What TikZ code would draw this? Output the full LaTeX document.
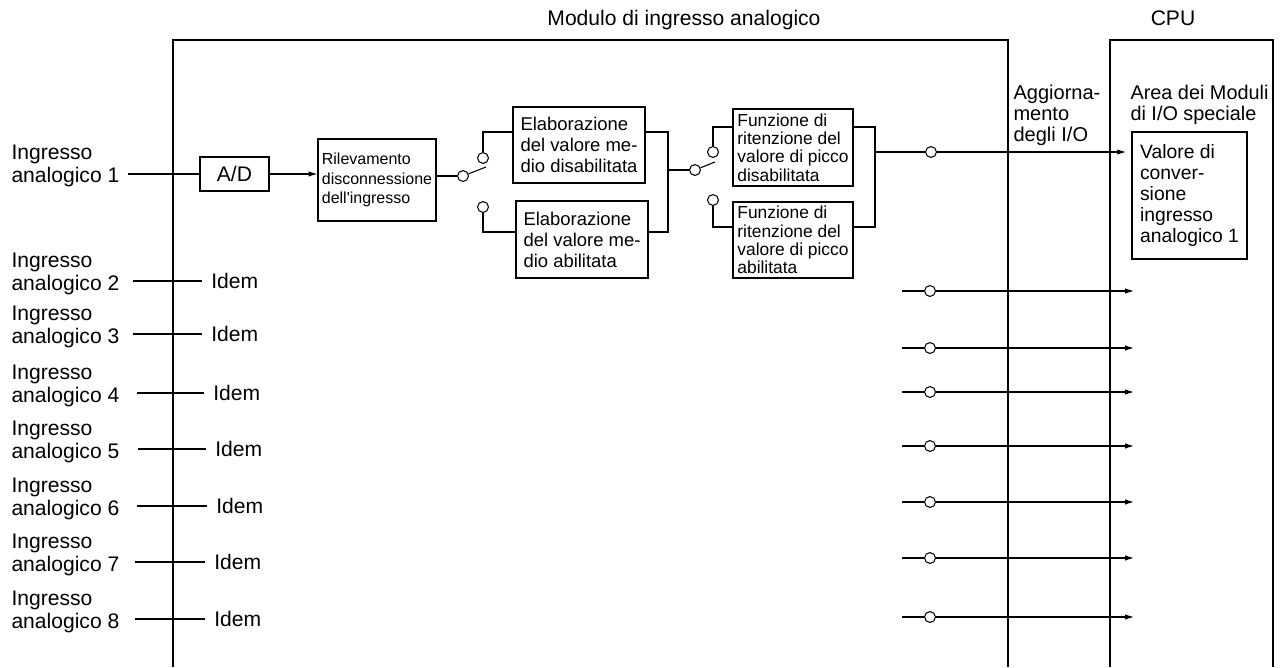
\documentclass[tikz,border=0pt]{standalone}
\usepackage{fontspec}
\setmainfont{Liberation Sans}
\usetikzlibrary{arrows.meta}

\begin{document}
\begin{tikzpicture}[x=0.02cm, y=-0.02cm, line width=0.6pt,
    every node/.style={inner sep=0pt, align=left, font=\fontsize{12}{12.6}\selectfont},
    blockbox/.style={draw, fill=white},
    contact/.style={draw, circle, minimum size=6.2pt, fill=white},
    inlabel/.style={anchor=south west},
    idem/.style={anchor=west, inner xsep=5pt},
    arr/.style={-{Latex[length=5pt, width=3pt]}}]
    \useasboundingbox (0,0) rectangle (1285,667);

    % Frames
    \draw (173,667) -- (173,40) -- (1008,40) -- (1008,667);
    \draw (1110,667) -- (1110,40) -- (1273,40) -- (1273,667);
    \node (module) [anchor=base] at (684,25) {Modulo di ingresso analogico};
    \node (cpu) [anchor=base] at (1173,25) {CPU};
    \node (refresh) [anchor=base west, font=\fontsize{11.4}{11.7}\selectfont] at (1013,141) {Aggiorna-\\mento\\degli I/O};
    \node (area) [anchor=base west, font=\fontsize{11.3}{11.7}\selectfont] at (1130,120.5) {Area dei Moduli\\di I/O speciale};

    % Nodes
    \node (in1) [inlabel] at (11,187) {Ingresso\\analogico 1};
    \node (ad) [blockbox, minimum width=1.38cm, minimum height=0.68cm] at (234.5,174) {A/D};
    \node (riv) [blockbox, minimum width=2.36cm, minimum height=1.64cm, font=\fontsize{9.1}{11}\selectfont] at (377,180) {Rilevamento\\disconnessione\\dell\textquotesingle ingresso};
    \node (sw1c) [contact] at (463,176) {};
    \node (sw1a) [contact] at (483,158) {};
    \node (sw1b) [contact] at (483,207) {};
    \node (el1) [blockbox, minimum width=2.64cm, minimum height=1.52cm, font=\fontsize{10.5}{12}\selectfont] at (579,145) {Elaborazione\\del valore me-\\dio disabilitata};
    \node (el2) [blockbox, minimum width=2.64cm, minimum height=1.54cm, font=\fontsize{10.5}{12}\selectfont] at (582,239.5) {Elaborazione\\del valore me-\\dio abilitata};
    \node (sw2c) [contact] at (695,170) {};
    \node (sw2a) [contact] at (713,152) {};
    \node (sw2b) [contact] at (713,200) {};
    \node (pk1) [blockbox, minimum width=2.4cm, minimum height=1.54cm, font=\fontsize{9.9}{10.4}\selectfont] at (793,147.5) {Funzione di\\ritenzione del\\valore di picco\\disabilitata};
    \node (pk2) [blockbox, minimum width=2.4cm, minimum height=1.52cm, font=\fontsize{9.9}{10.4}\selectfont] at (793,240) {Funzione di\\ritenzione del\\valore di picco\\abilitata};
    \node (o1) [contact] at (931,152) {};
    \node (val) [blockbox, minimum width=2.3cm, minimum height=2.54cm, font=\fontsize{11}{12}\selectfont] at (1189.5,195.5) {Valore di\\conver-\\sione\\ingresso\\analogico 1};

    \coordinate (s1) at (128,174);
    \coordinate (bl1) at (486,167);
    \coordinate (j1a) at (483,132);
    \coordinate (j1b) at (483,232);
    \coordinate (r1a) at (668,132);
    \coordinate (r1b) at (668,232);
    \coordinate (m1) at (668,170);
    \coordinate (bl2) at (715,162);
    \coordinate (j2a) at (713,127);
    \coordinate (j2b) at (713,227);
    \coordinate (r2a) at (875,127);
    \coordinate (r2b) at (875,227);
    \coordinate (m2) at (875,152);

    % Paths
    \draw (s1) -- (ad.west);
    \draw[arr] (ad.east) -- (ad.east -| riv.west);
    \draw (sw1c -| riv.east) -- (sw1c);
    \draw (sw1c) -- (bl1);
    \draw (sw1a) -- (j1a) -- (j1a -| el1.west);
    \draw (sw1b) -- (j1b) -- (j1b -| el2.west);
    \draw (r1a -| el1.east) -- (r1a) -- (r1b) -- (r1b -| el2.east);
    \draw (m1) -- (sw2c);
    \draw (sw2c) -- (bl2);
    \draw (sw2a) -- (j2a) -- (j2a -| pk1.west);
    \draw (sw2b) -- (j2b) -- (j2b -| pk2.west);
    \draw (r2a -| pk1.east) -- (r2a) -- (r2b) -- (r2b -| pk2.east);
    \draw (m2) -- (o1);
    \draw[arr, shorten >=5\pgflinewidth] (o1) -- (o1 -| val.west);

    % Other inputs
    \node (in2) [inlabel] at (11,295) {Ingresso\\analogico 2};
    \node (idem2) [idem] at (202,281) {Idem};
    \coordinate (s2) at (133,281);
    \draw (s2) -- (idem2);
    \node (in3) [inlabel] at (11,348) {Ingresso\\analogico 3};
    \node (idem3) [idem] at (202,334) {Idem};
    \coordinate (s3) at (133,334);
    \draw (s3) -- (idem3);
    \node (in4) [inlabel] at (11,407) {Ingresso\\analogico 4};
    \node (idem4) [idem] at (204,393) {Idem};
    \coordinate (s4) at (137,393);
    \draw (s4) -- (idem4);
    \node (in5) [inlabel] at (11,463) {Ingresso\\analogico 5};
    \node (idem5) [idem] at (206,449) {Idem};
    \coordinate (s5) at (138,449);
    \draw (s5) -- (idem5);
    \node (in6) [inlabel] at (11,520) {Ingresso\\analogico 6};
    \node (idem6) [idem] at (207,506) {Idem};
    \coordinate (s6) at (137,506);
    \draw (s6) -- (idem6);
    \node (in7) [inlabel] at (11,576) {Ingresso\\analogico 7};
    \node (idem7) [idem] at (205,562) {Idem};
    \coordinate (s7) at (135,562);
    \draw (s7) -- (idem7);
    \node (in8) [inlabel] at (11,633) {Ingresso\\analogico 8};
    \node (idem8) [idem] at (205,619) {Idem};
    \coordinate (s8) at (135,619);
    \draw (s8) -- (idem8);

    % Other outputs
    \coordinate (t2) at (902,291);  \node (o2) [contact] at (930,291) {};  \coordinate (e2) at (1134,291);
    \coordinate (t3) at (902,348);  \node (o3) [contact] at (930,348) {};  \coordinate (e3) at (1134,348);
    \coordinate (t4) at (902,392);  \node (o4) [contact] at (930,392) {};  \coordinate (e4) at (1134,392);
    \coordinate (t5) at (902,446);  \node (o5) [contact] at (930,446) {};  \coordinate (e5) at (1134,446);
    \coordinate (t6) at (902,502);  \node (o6) [contact] at (930,502) {};  \coordinate (e6) at (1134,502);
    \coordinate (t7) at (902,558);  \node (o7) [contact] at (930,558) {};  \coordinate (e7) at (1134,558);
    \coordinate (t8) at (902,617);  \node (o8) [contact] at (930,617) {};  \coordinate (e8) at (1134,617);
    \draw (t2) -- (o2);  \draw[arr] (o2) -- (e2);
    \draw (t3) -- (o3);  \draw[arr] (o3) -- (e3);
    \draw (t4) -- (o4);  \draw[arr] (o4) -- (e4);
    \draw (t5) -- (o5);  \draw[arr] (o5) -- (e5);
    \draw (t6) -- (o6);  \draw[arr] (o6) -- (e6);
    \draw (t7) -- (o7);  \draw[arr] (o7) -- (e7);
    \draw (t8) -- (o8);  \draw[arr] (o8) -- (e8);
\end{tikzpicture}
\end{document}
